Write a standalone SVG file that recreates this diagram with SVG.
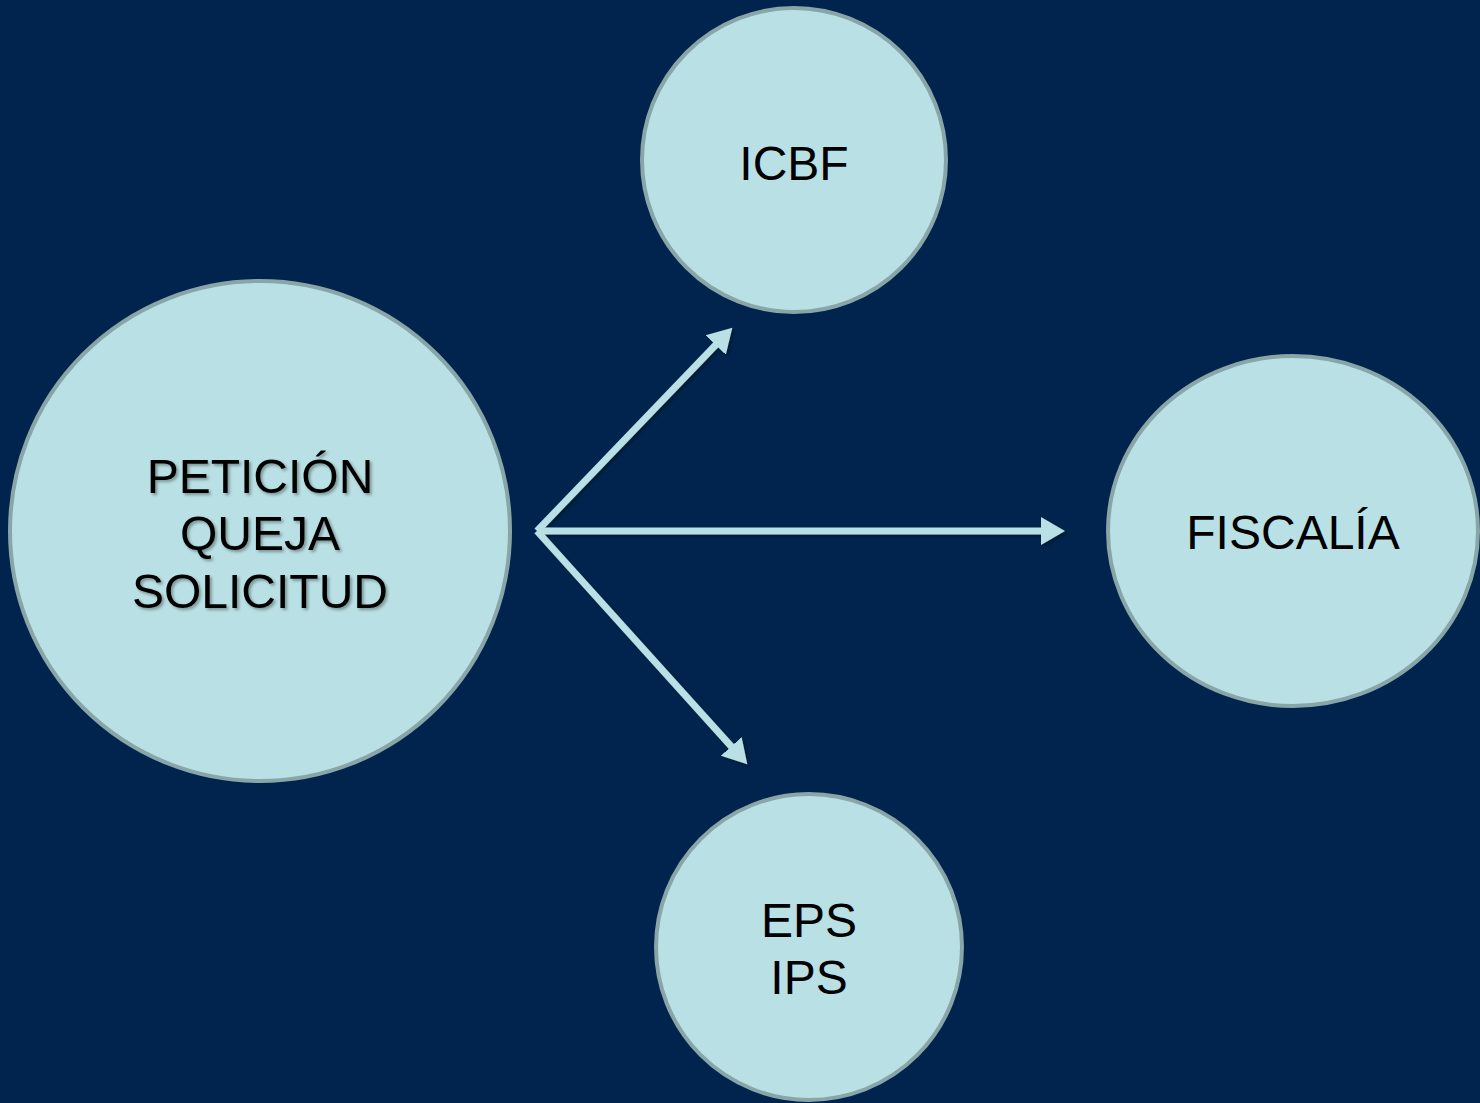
<svg xmlns="http://www.w3.org/2000/svg" width="1480" height="1103" viewBox="0 0 1480 1103">
<style>
.node{fill:#b9e0e4;stroke:#88a5a7;stroke-width:4}
.lbl{font-family:"Liberation Sans",Arial,sans-serif;font-size:48px;fill:#000;text-anchor:middle}
.conn{stroke:#b9e0e4;stroke-width:7;fill:none}
</style>
<defs>
<marker id="ah" markerUnits="userSpaceOnUse" markerWidth="30" markerHeight="32" refX="1" refY="16" orient="auto">
<path d="M0,2 L24,16 L0,30 Z" fill="#b9e0e4"/>
</marker>
<filter id="sh" x="-10%" y="-10%" width="130%" height="130%">
<feDropShadow dx="2" dy="2" stdDeviation="1.5" flood-color="#000" flood-opacity="0.35"/>
</filter>
</defs>
<rect width="1480" height="1103" fill="#00244d"/>
<g id="connectors" filter="url(#sh)">
<line class="conn" x1="537" y1="531" x2="716.4" y2="344.3" marker-end="url(#ah)"/>
<line class="conn" x1="537" y1="531" x2="1042" y2="531" marker-end="url(#ah)"/>
<line class="conn" x1="537" y1="531" x2="731.9" y2="747.2" marker-end="url(#ah)"/>
</g>
<g id="peticion">
<circle class="node" cx="260" cy="531" r="250"/>
<text class="lbl" filter="url(#sh)"><tspan x="260" y="493">PETICIÓN</tspan><tspan x="260" y="550">QUEJA</tspan><tspan x="260" y="608">SOLICITUD</tspan></text>
</g>
<g id="icbf">
<circle class="node" cx="794" cy="160" r="152"/>
<text class="lbl" x="794" y="180">ICBF</text>
</g>
<g id="fiscalia">
<ellipse class="node" cx="1293" cy="531" rx="185" ry="175"/>
<text class="lbl" x="1293" y="549">FISCALÍA</text>
</g>
<g id="eps">
<circle class="node" cx="809" cy="947" r="153"/>
<text class="lbl"><tspan x="809" y="937">EPS</tspan><tspan x="809" y="994">IPS</tspan></text>
</g>
</svg>
